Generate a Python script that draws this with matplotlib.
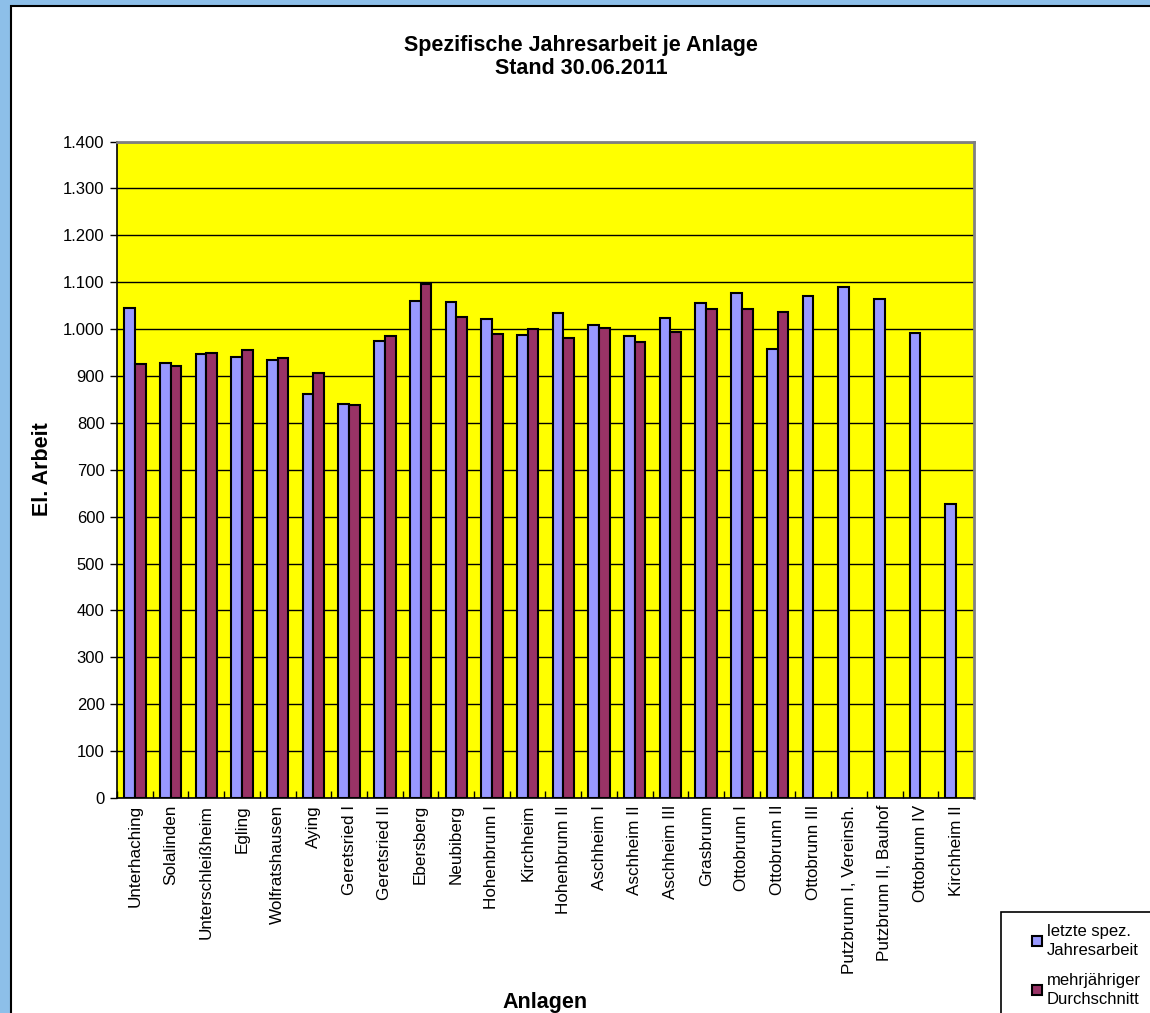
import numpy as np
import matplotlib
matplotlib.use("Agg")
import matplotlib.pyplot as plt
from matplotlib.patches import Rectangle
from matplotlib.ticker import FuncFormatter

plt.rcParams["font.family"] = ["Liberation Sans", "DejaVu Sans"]

anlagen = ["Unterhaching", "Solalinden", "Unterschleißheim", "Egling", "Wolfratshausen",
           "Aying", "Geretsried I", "Geretsried II", "Ebersberg", "Neubiberg",
           "Hohenbrunn I", "Kirchheim", "Hohenbrunn II", "Aschheim I", "Aschheim II",
           "Aschheim III", "Grasbrunn", "Ottobrunn I", "Ottobrunn II", "Ottobrunn III",
           "Putzbrunn I, Vereinsh.", "Putzbrunn II, Bauhof", "Ottobrunn IV", "Kirchheim II"]

letzte = [1045, 928, 946, 940, 933, 861, 840, 975, 1059, 1057,
          1021, 988, 1035, 1008, 985, 1024, 1055, 1076, 958, 1070,
          1089, 1064, 992, 628]

mehrjaehrig = [925, 921, 948, 956, 938, 907, 838, 986, 1096, 1026,
               989, 1001, 981, 1002, 973, 994, 1042, 1042, 1036, np.nan,
               np.nan, np.nan, np.nan, np.nan]

W, H = 1150, 1013
fig = plt.figure(figsize=(W / 100, H / 100), dpi=100)
fig.patch.set_facecolor("#8DBFE9")

# weisse Chartflaeche
fig.patches.append(Rectangle((11 / W, -0.01), 1.02, 1 - 6 / H + 0.01, transform=fig.transFigure,
                             facecolor="white", edgecolor="black", linewidth=1.5, zorder=-10))

ax = fig.add_axes([117 / W, 1 - 798 / H, (974 - 117) / W, (798 - 141.5) / H])
ax.set_facecolor("#FFFF00")

x = np.arange(len(anlagen))
w = 0.30
ax.bar(x - w / 2, letzte, w, color="#9999FF", edgecolor="black", linewidth=1.5,
       label="letzte spez.\nJahresarbeit", zorder=3)
ax.bar(x + w / 2, mehrjaehrig, w, color="#993366", edgecolor="black", linewidth=1.5,
       label="mehrjähriger\nDurchschnitt", zorder=3)

ax.set_xlim(-0.5, len(anlagen) - 0.5)
ax.set_ylim(0, 1400)
ax.set_yticks(range(0, 1401, 100))
ax.yaxis.set_major_formatter(FuncFormatter(lambda v, p: f"{int(v):,}".replace(",", ".")))
ax.grid(axis="y", color="black", linewidth=1.0, zorder=1)
ax.set_axisbelow(True)
ax.tick_params(axis="y", direction="out", length=5, width=1, labelsize=12, pad=4)

ax.set_xticks(np.arange(-0.5, len(anlagen)), labels=[])
ax.set_xticks(x, labels=anlagen, minor=True, rotation=90)
ax.tick_params(axis="x", which="major", direction="in", length=5, width=1)
ax.tick_params(axis="x", which="minor", length=0, labelsize=12.3, pad=5)

for s in ["top", "right"]:
    ax.spines[s].set_color("#808080")
    ax.spines[s].set_linewidth(2)
for s in ["left", "bottom"]:
    ax.spines[s].set_color("black")
    ax.spines[s].set_linewidth(1.2)

fig.text(581 / W, 1 - 46 / H, "Spezifische Jahresarbeit je Anlage", ha="center", va="center",
         fontsize=15.5, fontweight="bold")
fig.text(581 / W, 1 - 69 / H, "Stand 30.06.2011", ha="center", va="center",
         fontsize=15.5, fontweight="bold")
fig.text(42 / W, 1 - 469 / H, "El. Arbeit", ha="center", va="center", rotation=90,
         fontsize=15.5, fontweight="bold")
fig.text(545 / W, 1 - 1002 / H, "Anlagen", ha="center", va="center",
         fontsize=15.5, fontweight="bold")

# Legende
fig.patches.append(Rectangle((1001 / W, -0.01), 0.2, 1 - 912 / H + 0.01, transform=fig.transFigure,
                             facecolor="white", edgecolor="black", linewidth=1.2, zorder=-5))
leg = fig.legend(loc="upper left", bbox_to_anchor=(1020 / W, 1 - 912 / H), frameon=False,
                 fontsize=12, handlelength=0.6, handleheight=0.6, handletextpad=0.3,
                 labelspacing=0.9, borderpad=0.2)
for t in leg.get_texts():
    t.set_linespacing(1.35)

fig.savefig("out.png", dpi=100)
